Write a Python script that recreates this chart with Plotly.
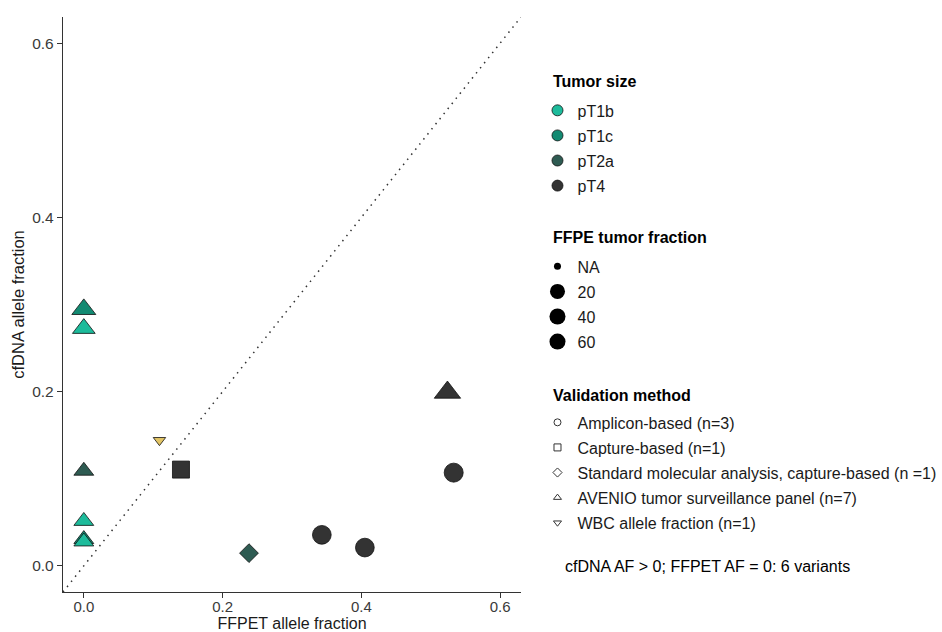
import math
import plotly.graph_objects as go

# ---------------- data ----------------
ffpet_af = [0.0, 0.0, 0.0, 0.0, 0.0, 0.0, 0.524, 0.343, 0.405, 0.533, 0.140, 0.238, 0.109]
cfdna_af = [0.2945, 0.2725, 0.109, 0.0514, 0.0306, 0.0278, 0.199, 0.0356, 0.021, 0.107, 0.1105, 0.0146, 0.1442]
tumor_size = ["pT1c", "pT1b", "pT2a", "pT1b", "pT1c", "pT1b", "pT4", "pT4", "pT4", "pT4", "pT4", "pT2a", None]
tumor_fraction = [50, 40, 20, 20, 20, 20, 70, 57, 57, 60, 62, 20, None]
validation = ["AVENIO", "AVENIO", "AVENIO", "AVENIO", "AVENIO", "AVENIO", "AVENIO",
              "Amplicon", "Amplicon", "Amplicon", "Capture", "Standard", "WBC"]

size_levels = ["pT1b", "pT1c", "pT2a", "pT4"]
fraction_breaks = [None, 20, 40, 60]
fraction_labels = ["NA", "20", "40", "60"]
method_keys = ["Amplicon", "Capture", "Standard", "AVENIO", "WBC"]
method_labels = ["Amplicon-based (n=3)", "Capture-based (n=1)",
                 "Standard molecular analysis, capture-based (n =1)",
                 "AVENIO tumor surveillance panel (n=7)", "WBC allele fraction (n=1)"]
legend_titles = ["Tumor size", "FFPE tumor fraction", "Validation method"]
note_text = "cfDNA AF > 0; FFPET AF = 0: 6 variants"
axis_ticks = [0.0, 0.2, 0.4, 0.6]

# ---------------- styles ----------------
AX_RANGE = [-0.03, 0.63]
FONT = "Liberation Sans, Arial, sans-serif"
size_colors = {"pT1b": "#1DBB9B", "pT1c": "#138A72", "pT2a": "#2E5B52", "pT4": "#333333"}
na_color = "#E3C565"
method_symbols = {"Amplicon": "circle", "Capture": "square", "Standard": "diamond",
                  "AVENIO": "triangle-up", "WBC": "triangle-down"}
symbol_factor = {"circle": 1.0, "square": 0.886, "diamond": 0.964,
                 "triangle-up": 1.15, "triangle-down": 1.2}


def diam(v, na=9.0):
    if v is None:
        return na
    return math.sqrt(157 + 3.4 * v)


sym = [method_symbols[m] for m in validation]
cols = [size_colors.get(t, na_color) if t else na_color for t in tumor_size]
sizes = [diam(v) * symbol_factor[s] for v, s in zip(tumor_fraction, sym)]

fig = go.Figure()

# identity line
fig.add_shape(type="line", xref="x", yref="y",
              x0=AX_RANGE[0], y0=AX_RANGE[0], x1=AX_RANGE[1], y1=AX_RANGE[1],
              line=dict(color="#333333", width=1.5, dash="1.5px,5px"), layer="below")

fig.add_trace(go.Scatter(
    x=ffpet_af, y=cfdna_af, mode="markers", showlegend=False,
    marker=dict(symbol=sym, color=cols, size=sizes, opacity=1,
                line=dict(color="#111111", width=0.8)),
    hoverinfo="x+y"))

# legend 1: tumor size
for lev in size_levels:
    fig.add_trace(go.Scatter(
        x=[None], y=[None], mode="markers", name=lev, legend="legend",
        legendgroup="ts_" + lev,
        marker=dict(symbol="circle", size=11, color=size_colors[lev], opacity=1,
                    line=dict(color="#111111", width=0.8))))

# legend 2: FFPE tumor fraction
for v, lab in zip(fraction_breaks, fraction_labels):
    fig.add_trace(go.Scatter(
        x=[None], y=[None], mode="markers", name=lab, legend="legend2",
        legendgroup="tf_" + lab,
        marker=dict(symbol="circle", size=diam(v, na=7.0), color="#000000", opacity=1,
                    line=dict(width=0))))

# legend 3: validation method
for k, lab in zip(method_keys, method_labels):
    fig.add_trace(go.Scatter(
        x=[None], y=[None], mode="markers", name=lab, legend="legend3",
        legendgroup="vm_" + k,
        marker=dict(symbol=method_symbols[k], size=7, color="white", opacity=1,
                    line=dict(color="#333333", width=1))))

leg_common = dict(x=1.036, xanchor="left", yanchor="top", bgcolor="rgba(0,0,0,0)",
                  font=dict(family=FONT, size=16, color="#1a1a1a"),
                  itemsizing="trace", tracegroupgap=1.3, traceorder="grouped")

title_y = [0.8875, 0.6157, 0.3426]
annotations = [dict(text=t, xref="paper", yref="paper", x=1.0655, y=yy,
                    xanchor="left", yanchor="middle", showarrow=False,
                    font=dict(family=FONT, size=16, weight="bold", color="#000"))
               for t, yy in zip(legend_titles, title_y)]
annotations.append(dict(text=note_text, xref="paper", yref="paper", x=1.0917, y=0.0435,
                        xanchor="left", yanchor="middle", showarrow=False,
                        font=dict(family=FONT, size=16, color="#000")))

fig.update_layout(
    width=942, height=632,
    margin=dict(l=63, r=421, t=17, b=40, autoexpand=False),
    paper_bgcolor="white", plot_bgcolor="white",
    font=dict(family=FONT, size=16, color="#000000"),
    legend=dict(y=0.8671, **leg_common),
    legend2=dict(y=0.5958, **leg_common),
    legend3=dict(y=0.3245, **leg_common),
    annotations=annotations,
)

axis_common = dict(range=AX_RANGE, tickvals=axis_ticks, tickformat=".1f",
                   showline=True, linecolor="#333333", linewidth=1.4,
                   ticks="outside", ticklen=5, tickwidth=1.3, tickcolor="#333333",
                   showgrid=False, zeroline=False, automargin=False,
                   tickfont=dict(family=FONT, size=15.5, color="#3a3a3a"))

fig.update_xaxes(title=dict(text="FFPET allele fraction", standoff=2,
                            font=dict(family=FONT, size=16, color="#1a1a1a")),
                 **axis_common)
fig.update_xaxes(ticklabelstandoff=-4, tickfont=dict(size=15))
fig.update_yaxes(title=dict(text="cfDNA allele fraction", standoff=3,
                            font=dict(family=FONT, size=16.5, color="#1a1a1a")),
                 **axis_common)

fig.write_html("out.html")
